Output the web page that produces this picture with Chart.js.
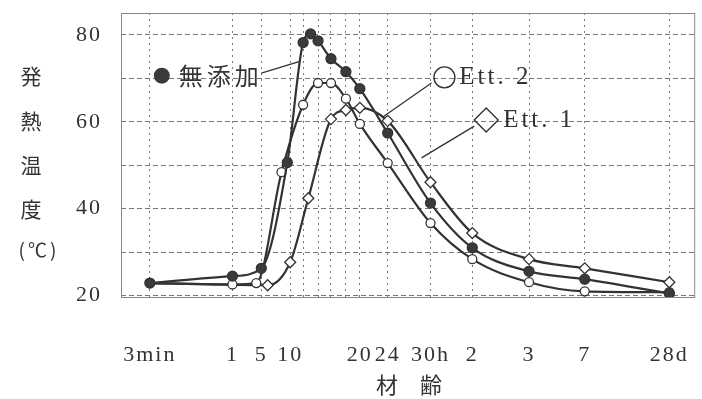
<!DOCTYPE html>
<html>
<head>
<meta charset="utf-8">
<script src="https://cdn.jsdelivr.net/npm/chart.js@4.4.1/dist/chart.umd.min.js"></script>
<style>
    html, body { margin: 0; padding: 0; background: #fff; }
    #wrap { width: 702px; height: 399px; }
</style>
</head>
<body>
<div id="wrap"><canvas id="chart"></canvas></div>
<script>
// age axis: grid lines (in hours) and where each one sits along the axis
const gridHours = [0.05, 1, 5, 10, 12, 14, 16, 18, 20, 24, 30, 48, 72, 168, 672]
const gridPos = [0, 83, 112, 141, 154, 169, 182, 197, 211, 239, 282, 324, 381, 437, 522]
const xTickLabels = ["3min", "1", "5", "10", "", "", "", "", "20", "24", "30h", "2", "3", "7", "28d"]
const yTicks = [20, 30, 40, 50, 60, 70, 80]

// 無添加 (filled circles)
const plainHours = [0.05, 1, 5, 9.5, 12, 13, 14, 16, 18, 20, 24, 30, 48, 72, 168, 672]
const plainTemp = [22.9, 24.5, 26.3, 50.6, 78.2, 80.2, 78.6, 74.5, 71.5, 67.6, 57.4, 41.3, 31.0, 25.6, 23.8, 20.5]
// Ett.2 (open circles)
const ett2Hours = [0.05, 1, 4.3, 8.5, 12, 14, 16, 18, 20, 24, 30, 48, 72, 168, 672]
const ett2Temp = [22.9, 22.6, 22.9, 48.4, 63.9, 68.9, 68.9, 65.3, 59.5, 50.5, 36.7, 28.4, 23.1, 21.0, 20.8]
// Ett.1 (open diamonds)
const ett1Hours = [0.05, 6.1, 10, 12.7, 16, 18, 20, 24, 30, 48, 72, 168, 672]
const ett1Temp = [22.9, 22.4, 27.7, 42.4, 60.6, 62.7, 63.2, 60.2, 46.1, 34.4, 28.4, 26.3, 23.1]

const ink = "#333"

// hours -> position on the (irregular) age axis
function agePos(h) {
    for (let i = 1; i < gridHours.length; i++) {
        if (h <= gridHours[i]) {
            const t = (h - gridHours[i - 1]) / (gridHours[i] - gridHours[i - 1])
            return gridPos[i - 1] + t * (gridPos[i] - gridPos[i - 1])
        }
    }
    return gridPos[gridPos.length - 1]
}

const toPoints = (hours, temps) => hours.map((h, i) => ({ x: agePos(h), y: temps[i] }))

const serif = "'Liberation Serif', serif"
const cjk = "'Noto Sans CJK JP', sans-serif"

// frame, axis titles and the labelled callouts
const extras = {
    id: "extras",
    beforeDraw(chart) {
        // the typed tick labels are spaced out a little
        chart.ctx.letterSpacing = "2px"
    },
    afterDraw(chart) {
        const { ctx, chartArea: a } = chart
        const x = chart.scales.x
        const y = chart.scales.y
        const px = v => x.getPixelForValue(v)
        const py = v => y.getPixelForValue(v)

        ctx.save()
        ctx.letterSpacing = "0px"
        ctx.strokeStyle = "#888"
        ctx.lineWidth = 1
        ctx.strokeRect(a.left + 0.5, a.top + 0.5, a.right - a.left - 1, a.bottom - a.top)

        // y title, stacked
        ctx.fillStyle = ink
        ctx.textAlign = "center"
        ctx.textBaseline = "middle"
        ctx.font = "21px " + cjk
        const yChars = ["発", "熱", "温", "度"]
        const yRows = [76, 121, 165, 209]
        yChars.forEach((c, i) => ctx.fillText(c, 31, yRows[i]))
        ctx.font = "19px " + cjk
        ctx.letterSpacing = "3px"
        ctx.fillText("(℃)", 39, 250)
        ctx.letterSpacing = "0px"

        // x title
        ctx.font = "22px " + cjk
        ctx.fillText("材　齢", 409, 385)

        // callout leaders
        ctx.strokeStyle = ink
        ctx.lineWidth = 1.3
        const lines = [
            [[112, 71.2], [150, 73.8]],
            [[283, 68.9], [233, 60.9]],
            [[326, 59.0], [273, 51.7]]
        ]
        lines.forEach(([p, q]) => {
            ctx.beginPath()
            ctx.moveTo(px(p[0]), py(p[1]))
            ctx.lineTo(px(q[0]), py(q[1]))
            ctx.stroke()
        })

        // 無添加
        ctx.fillStyle = "#3a3a3a"
        ctx.beginPath()
        ctx.arc(px(12), py(70.6), 8, 0, Math.PI * 2)
        ctx.fill()
        ctx.fillStyle = ink
        ctx.textAlign = "left"
        ctx.font = "24px " + cjk
        ctx.letterSpacing = "4px"
        ctx.fillText("無添加", px(29), py(70.6))

        // Ett.2
        ctx.lineWidth = 1.4
        ctx.beginPath()
        ctx.arc(px(296), py(70.2), 10.5, 0, Math.PI * 2)
        ctx.stroke()
        ctx.font = "25px " + serif
        ctx.letterSpacing = "3px"
        ctx.fillText("Ett. 2", px(311), py(70.2))

        // Ett.1
        const dx = px(338), dy = py(60.4)
        ctx.beginPath()
        ctx.moveTo(dx, dy - 12)
        ctx.lineTo(dx + 12, dy)
        ctx.lineTo(dx, dy + 12)
        ctx.lineTo(dx - 12, dy)
        ctx.closePath()
        ctx.stroke()
        ctx.fillText("Ett. 1", px(355), py(60.4))
        ctx.restore()
    }
}

const line = {
    borderColor: ink,
    borderWidth: 2.2,
    cubicInterpolationMode: "monotone",
    pointBorderColor: ink,
    pointBorderWidth: 1.3
}

new Chart(document.getElementById("chart"), {
    type: "line",
    data: {
        datasets: [
            {
                ...line,
                label: "無添加",
                data: toPoints(plainHours, plainTemp),
                pointStyle: "circle",
                pointRadius: 5,
                pointBackgroundColor: "#3a3a3a"
            },
            {
                ...line,
                label: "Ett.2",
                data: toPoints(ett2Hours, ett2Temp),
                pointStyle: "circle",
                pointRadius: 4.5,
                pointBackgroundColor: "#fff"
            },
            {
                ...line,
                label: "Ett.1",
                data: toPoints(ett1Hours, ett1Temp),
                pointStyle: "rectRot",
                pointRadius: ett1Hours.map((h, i) => i === 0 ? 0 : 5.5),
                pointBackgroundColor: "#fff"
            }
        ]
    },
    options: {
        responsive: true,
        maintainAspectRatio: false,
        animation: false,
        layout: { padding: { top: 13, right: 4, bottom: 0, left: 0 } },
        plugins: {
            legend: { display: false },
            tooltip: { enabled: false }
        },
        scales: {
            x: {
                type: "linear",
                min: -29,
                max: 548,
                afterBuildTicks: scale => { scale.ticks = gridPos.map(v => ({ value: v })) },
                afterFit: scale => {
                    scale.height = 102
                    scale.paddingLeft = 0
                    scale.paddingRight = 0
                },
                grid: { color: "#777", lineWidth: 1, drawTicks: false },
                border: { display: false, dash: [2, 4] },
                ticks: {
                    autoSkip: false,
                    maxRotation: 0,
                    padding: 45,
                    color: ink,
                    font: { family: serif, size: 22 },
                    callback: (v, i) => xTickLabels[i]
                }
            },
            y: {
                min: 19.7,
                max: 85,
                afterBuildTicks: scale => { scale.ticks = yTicks.map(v => ({ value: v })) },
                afterFit: scale => {
                    scale.width = 121
                    scale.paddingTop = 0
                    scale.paddingBottom = 0
                },
                grid: { color: "#777", lineWidth: 1, drawTicks: false },
                border: { display: false, dash: [5, 3] },
                ticks: {
                    padding: 19,
                    color: ink,
                    font: { family: serif, size: 22 },
                    callback: v => v % 20 === 0 ? v : ""
                }
            }
        }
    },
    plugins: [extras]
})
</script>
</body>
</html>
